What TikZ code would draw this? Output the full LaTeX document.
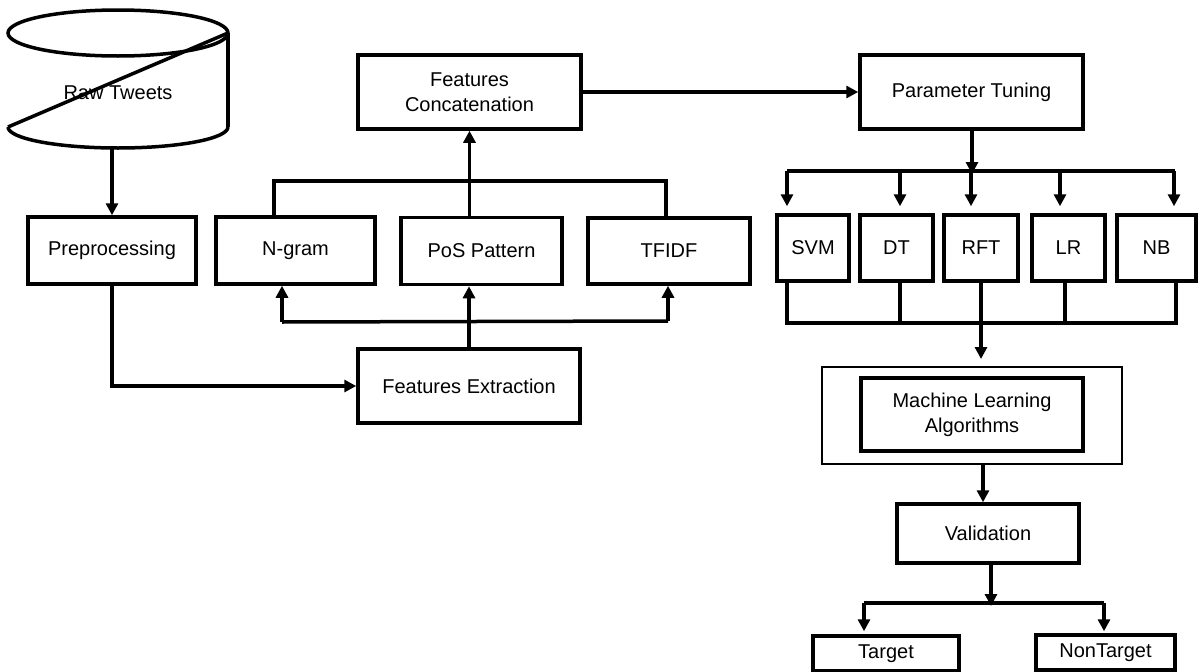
\documentclass[tikz,border=0pt]{standalone}
\usepackage{fontspec}
\setmainfont{Liberation Sans}
\usetikzlibrary{arrows.meta,calc}
\begin{document}
\begin{tikzpicture}[x=1pt,y=-1pt,
  line width=3.5pt,
  every node/.style={font=\fontsize{20}{25}\selectfont},
  box/.style={draw, rectangle, inner sep=0pt, align=center, line width=3.5pt},
  arr/.style={-{Triangle[length=12pt,width=12pt]}},
  line join=miter]
\useasboundingbox (0,0) rectangle (1200,672);

% --- raw tweets store ---
\draw (118,33) ellipse [x radius=110, y radius=23];
\draw (228,33) -- (228,127);
\draw (8,127) arc [start angle=180, end angle=360, x radius=110, y radius=-21];
\draw (8,127) -- (228,33);
\node (raw) at (118,93) {Raw Tweets};
\coordinate (cylbot) at (112,149);

% --- feature pipeline ---
\node[box, minimum width=168, minimum height=67] (pre) at (112,250.5) {Preprocessing};
\node[box, minimum width=159, minimum height=67] (ngram) at (295.5,250.5) {N-gram};
\node[box, minimum width=161, minimum height=67] (pos) at (481.5,251) {PoS Pattern};
\node[box, minimum width=162, minimum height=66] (tfidf) at (669,251) {TFIDF};
\node[box, minimum width=222, minimum height=74] (fe) at (469,386) {Features Extraction};
\node[box, minimum width=223, minimum height=74] (fc) at (469.5,92) {Features\\Concatenation};
\node[box, minimum width=223, minimum height=74] (pt) at (971.5,92) {Parameter Tuning};

% --- classifiers ---
\node[box, minimum width=72, minimum height=66] (svm) at (813,248) {SVM};
\node[box, minimum width=73, minimum height=66] (dt) at (896.5,248) {DT};
\node[box, minimum width=74, minimum height=66] (rft) at (981,248) {RFT};
\node[box, minimum width=73, minimum height=66] (lr) at (1068.5,248) {LR};
\node[box, minimum width=79, minimum height=66] (nb) at (1156.5,248) {NB};

\node[box, minimum width=300, minimum height=97, line width=2pt] (mlout) at (972,415.5) {};
\node[box, minimum width=222, minimum height=73] (ml) at (972,414.5) {Machine Learning\\Algorithms};
\node[box, minimum width=182, minimum height=59] (val) at (988,533.5) {Validation};
\node[box, minimum width=146, minimum height=35] (tgt) at (886,653.5) {Target};
\node[box, minimum width=139, minimum height=35] (ntgt) at (1105.5,652.5) {NonTarget};

% --- connectors: left part ---
\draw[arr] (cylbot) -- (pre.north -| cylbot);
\draw[arr] (pre.south) |- (fe.west);
\draw[arr] (fe.north) -- (pos.south -| fe.north);
\coordinate (bl) at (282,322);
\coordinate (br) at (668,321);
\draw (bl) -- (br);
\draw[arr] (bl) -- (ngram.south -| bl);
\draw[arr] (br) -- (tfidf.south -| br);
\coordinate (tl) at (274,181);
\coordinate (tr) at (666,181);
\draw (ngram.north -| tl) -- (tl) -- (tr) -- ([yshift=-4pt]tfidf.north -| tr);
\draw[arr] (pos.north -| fc.south) -- (fc.south);
\draw[arr] (fc.east) -- (pt.west);

% --- fan-out to classifiers ---
\coordinate (ptbus) at (972,171);
\draw[arr] (pt.south -| ptbus) -- ([yshift=-3pt]ptbus);
\coordinate (s1) at (787,171);
\coordinate (s2) at (900,171);
\coordinate (s3) at (971,171);
\coordinate (s4) at (1060,171);
\coordinate (s5) at (1174,171);
\draw (s1) -- (1175,171);
\draw[arr, shorten >=7pt] (s1) -- (svm.north -| s1);
\draw[arr, shorten >=7pt] (s2) -- (dt.north -| s2);
\draw[arr, shorten >=7pt] (s3) -- (rft.north -| s3);
\draw[arr, shorten >=7pt] (s4) -- (lr.north -| s4);
\draw[arr, shorten >=7pt] (s5) -- (nb.north -| s5);

% --- fan-in from classifiers ---
\coordinate (j1) at (787,323);
\coordinate (j2) at (900,323);
\coordinate (j4) at (1065,323);
\coordinate (j5) at (1176,323);
\draw (svm.south -| j1) -- (j1) -- (j5) -- (nb.south -| j5);
\draw (dt.south -| j2) -- (j2);
\draw (lr.south -| j4) -- (j4);
\coordinate (rx) at (981,323);
\draw[arr, shorten >=7pt] (rft.south -| rx) -- (mlout.north -| rx);

% --- validation and outcome ---
\coordinate (mx) at (983,470);
\draw[arr] (mlout.south -| mx) -- (val.north -| mx);
\coordinate (vb) at (991,603);
\draw[arr] (val.south -| vb) -- ([yshift=-3pt]vb);
\coordinate (ol) at (864,603);
\coordinate (or) at (1104,603);
\draw (ol) -- (or);
\draw[arr, shorten >=3pt] (ol) -- (tgt.north -| ol);
\draw[arr, shorten >=2pt] (or) -- (ntgt.north -| or);
\end{tikzpicture}
\end{document}
